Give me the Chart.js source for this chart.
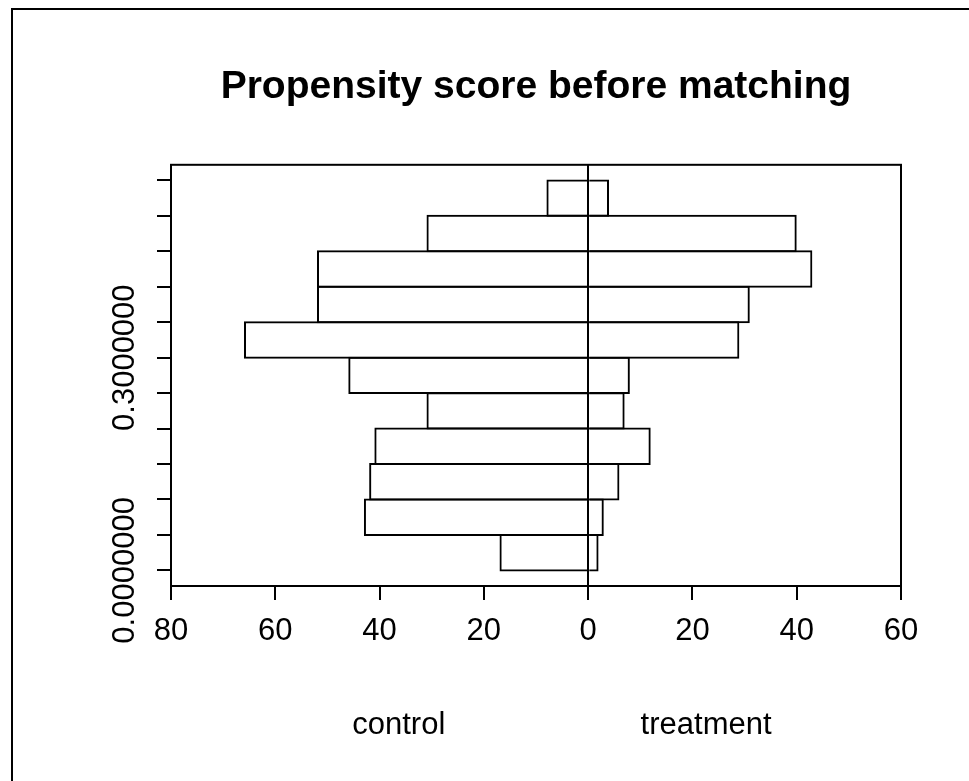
<!DOCTYPE html>
<html>
<head>
<meta charset="utf-8">
<script src="https://cdn.jsdelivr.net/npm/chart.js@4.4.0/dist/chart.umd.min.js"></script>
<style>
  html, body { margin: 0; padding: 0; background: #fff; }
  #wrap { width: 969px; height: 781px; }
</style>
</head>
<body>
<div id="wrap"><canvas id="psChart"></canvas></div>
<script>
// histogram bin edges (propensity score)
const binEdges = [0, 0.05, 0.10, 0.15, 0.20, 0.25, 0.30, 0.35, 0.40, 0.45, 0.50, 0.55];
// counts per bin, lowest score first
const controlCounts = [17, 43, 42, 41, 31, 46, 66, 52, 52, 31, 8];
const treatmentCounts = [2, 3, 6, 12, 7, 8, 29, 31, 43, 40, 4];
// only these y ticks get a label (R drops the overlapping ones)
const yLabelValues = [0, 0.3];
const groupLabels = ['control', 'treatment'];

const FONT = "'Liberation Sans', Arial, sans-serif";

const binCenters = binEdges.slice(0, -1).map((e, i) => (e + binEdges[i + 1]) / 2);

const extraText = {
    id: 'extraText',
    afterDraw(chart) {
        const ctx = chart.ctx;
        const area = chart.chartArea;
        const yScale = chart.scales.y;
        ctx.save();
        // plot box
        ctx.strokeStyle = '#000';
        ctx.lineWidth = 2;
        ctx.strokeRect(area.left, area.top, area.right - area.left, area.bottom - area.top);

        // rotated y labels
        ctx.fillStyle = '#000';
        ctx.font = '31px ' + FONT;
        ctx.textAlign = 'center';
        ctx.textBaseline = 'middle';
        yLabelValues.forEach(v => {
            const y = yScale.getPixelForValue(v);
            ctx.save();
            ctx.translate(125, y);
            ctx.rotate(-Math.PI / 2);
            ctx.fillText(v.toFixed(7), 0, 0);
            ctx.restore();
        });

        // group labels under the axis
        ctx.textBaseline = 'alphabetic';
        const w = area.right - area.left;
        ctx.fillText(groupLabels[0], area.left + w * 0.312, 734);
        ctx.fillText(groupLabels[1], area.left + w * 0.733, 734);

        // outer frame
        ctx.beginPath();
        ctx.moveTo(12, chart.height);
        ctx.lineTo(12, 9);
        ctx.lineTo(chart.width, 9);
        ctx.stroke();
        ctx.restore();
    }
};

// bars a touch thicker than the bin so neighbouring borders fall on top of each other
const barStyle = {
    backgroundColor: 'rgba(0,0,0,0)',
    borderColor: '#000',
    borderWidth: 2,
    borderSkipped: 'start',
    grouped: false,
    barPercentage: 1.056,
    categoryPercentage: 1
};

const ctx = document.getElementById('psChart').getContext('2d');
new Chart(ctx, {
    type: 'bar',
    data: {
        datasets: [{
            label: groupLabels[0],
            data: binCenters.map((c, i) => ({ x: -controlCounts[i], y: c })),
            ...barStyle
        }, {
            label: groupLabels[1],
            data: binCenters.map((c, i) => ({ x: treatmentCounts[i], y: c })),
            ...barStyle
        }]
    },
    options: {
        indexAxis: 'y',
        responsive: true,
        maintainAspectRatio: false,
        animation: false,
        layout: { padding: { left: 0, right: 68, top: 0, bottom: 0 } },
        scales: {
            x: {
                type: 'linear',
                min: -80,
                max: 60,
                afterFit: s => { s.height = 195; },
                ticks: {
                    stepSize: 20,
                    color: '#000',
                    padding: 13,
                    font: { family: FONT, size: 31 },
                    maxRotation: 0,
                    callback: v => Math.abs(v)
                },
                grid: {
                    color: c => (c.tick && c.tick.value === 0) ? '#000' : 'rgba(0,0,0,0)',
                    lineWidth: 2,
                    tickColor: '#000',
                    tickWidth: 2,
                    tickLength: 14
                },
                border: { display: true, color: '#000', width: 2 }
            },
            y: {
                type: 'linear',
                min: -0.022,
                max: 0.572,
                offset: false,
                afterFit: s => { s.width = 171; },
                afterBuildTicks: s => { s.ticks = binEdges.map(v => ({ value: v })); },
                ticks: { display: false },
                grid: {
                    offset: false,
                    drawOnChartArea: false,
                    lineWidth: 2,
                    tickColor: '#000',
                    tickWidth: 2,
                    tickLength: 14
                },
                border: { display: true, color: '#000', width: 2 }
            }
        },
        plugins: {
            legend: { display: false },
            tooltip: { enabled: false },
            title: {
                display: true,
                fullSize: false,
                text: 'Propensity score before matching',
                color: '#000',
                font: { family: FONT, size: 39, weight: 'bold' },
                padding: { top: 64, bottom: 54 }
            }
        }
    },
    plugins: [extraText]
});
</script>
</body>
</html>
